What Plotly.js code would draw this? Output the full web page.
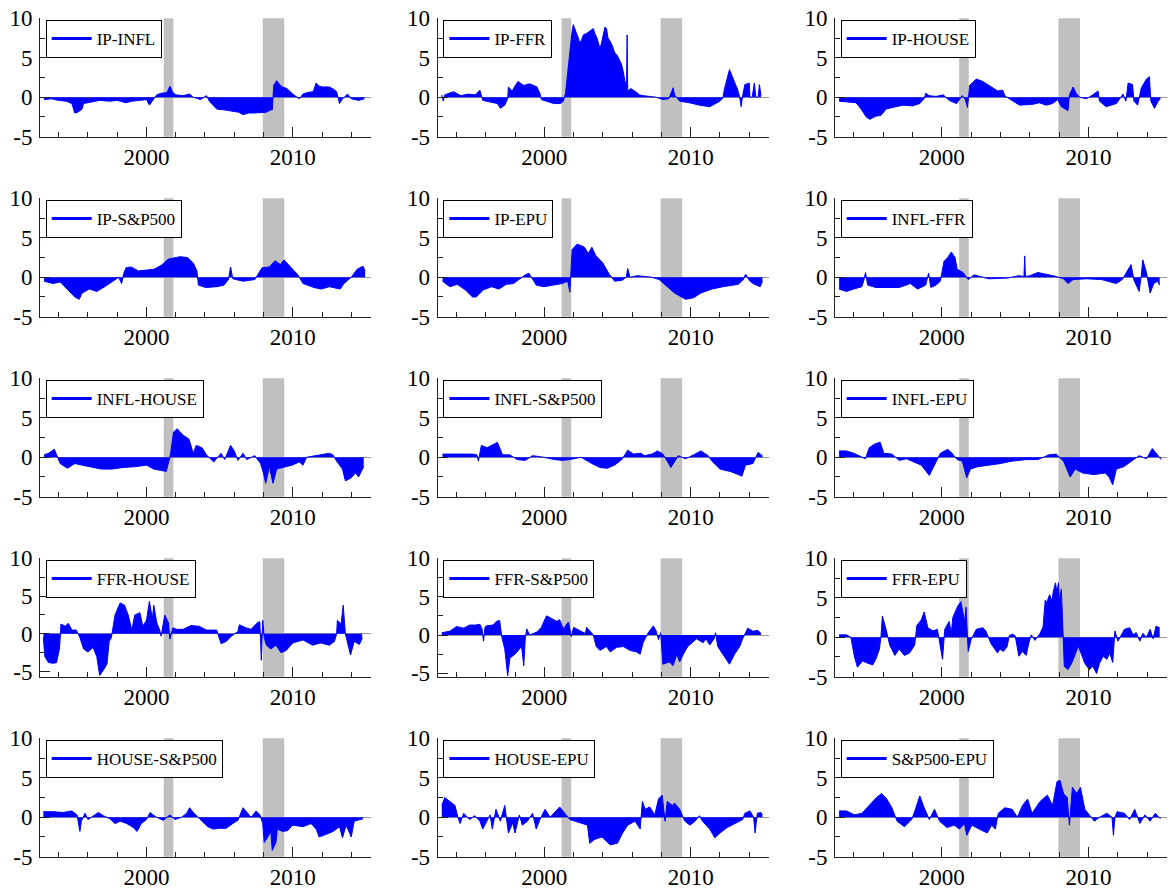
<!DOCTYPE html>
<html><head><meta charset="utf-8">
<script src="https://cdn.plot.ly/plotly-3.0.1.min.js"></script>
<style>html,body{margin:0;padding:0;background:#fff}#chart{width:1175px;height:893px}</style>
</head><body><div id="chart"></div>
<script>
// ---- data (decimal year, value) ----
const IP_INFL = [[1993.0,-0.3],[1993.5,-0.2],[1994.0,-0.4],[1994.5,-0.5],[1994.9,-0.8],[1995.1,-2.0],[1995.3,-1.9],[1995.6,-1.5],[1995.7,-0.8],[1996.2,-0.6],[1996.8,-0.4],[1997.5,-0.5],[1998.0,-0.4],[1998.6,-0.7],[1999.0,-0.5],[1999.5,-0.4],[2000.0,-0.3],[2000.2,-1.0],[2000.4,-0.5],[2000.7,0.3],[2001.0,0.5],[2001.4,0.6],[2001.6,1.4],[2001.7,1.0],[2001.8,0.6],[2002.0,0.3],[2002.5,0.2],[2002.95,0.4],[2003.2,0.0],[2003.7,-0.3],[2004.1,0.2],[2004.3,-0.5],[2004.8,-1.5],[2005.3,-1.6],[2005.9,-1.8],[2006.3,-1.9],[2006.6,-2.2],[2007.0,-2.0],[2007.3,-2.0],[2007.8,-1.9],[2008.2,-1.9],[2008.5,-1.6],[2008.6,-1.6],[2008.7,1.5],[2008.9,2.1],[2009.1,1.6],[2009.3,1.3],[2009.6,1.1],[2010.0,0.4],[2010.45,-0.2],[2010.7,0.4],[2011.0,0.6],[2011.4,0.7],[2011.6,1.8],[2011.8,1.4],[2012.05,1.3],[2012.5,1.3],[2012.8,1.0],[2013.0,0.7],[2013.2,-0.8],[2013.4,-0.2],[2013.75,0.4],[2014.0,-0.2],[2014.5,-0.4],[2014.9,-0.2]];
const IP_FFR = [[1993.0,0.3],[1993.1,-0.5],[1993.2,0.3],[1993.8,0.7],[1994.3,0.2],[1994.8,0.4],[1995.3,0.3],[1995.6,0.9],[1995.8,-0.4],[1996.3,-0.6],[1996.8,-0.8],[1997.0,-1.4],[1997.3,-1.0],[1997.5,-0.2],[1997.55,1.3],[1997.8,0.8],[1998.2,2.0],[1998.6,1.5],[1999.0,1.7],[1999.5,1.3],[1999.7,0.5],[1999.8,-0.3],[2000.4,-0.6],[2000.65,-0.8],[2001.1,-0.8],[2001.3,-0.5],[2001.45,0.5],[2001.53,2.0],[2001.71,5.4],[2001.87,7.9],[2001.98,9.2],[2002.1,8.7],[2002.2,8.1],[2002.33,7.5],[2002.44,6.8],[2002.55,7.3],[2002.67,7.9],[2002.9,8.1],[2003.1,8.4],[2003.35,8.7],[2003.45,8.1],[2003.6,7.5],[2003.8,6.2],[2003.9,6.8],[2004.15,8.9],[2004.25,8.7],[2004.35,7.5],[2004.5,7.1],[2004.65,6.5],[2004.8,5.7],[2004.98,5.3],[2005.15,4.6],[2005.27,4.2],[2005.4,3.2],[2005.5,2.1],[2005.62,1.5],[2005.66,7.9],[2005.7,0.8],[2005.9,1.1],[2006.25,0.7],[2006.5,0.3],[2006.75,0.2],[2007.65,0.0],[2008.1,-0.3],[2008.5,-0.2],[2008.7,0.7],[2008.8,1.2],[2008.9,0.3],[2009.25,-0.5],[2009.9,-0.7],[2010.6,-1.0],[2011.3,-1.2],[2012.0,-0.5],[2012.2,-0.1],[2012.3,1.0],[2012.65,3.5],[2013.0,2.0],[2013.2,1.0],[2013.35,0.0],[2013.45,-1.2],[2013.55,0.2],[2013.7,1.6],[2014.0,1.8],[2014.05,0.0],[2014.2,0.0],[2014.35,1.8],[2014.45,0.0],[2014.6,0.0],[2014.7,1.6],[2014.8,0.2]];
const IP_HOUSE = [[1993.0,-0.5],[1993.7,-0.6],[1994.15,-0.7],[1994.5,-1.5],[1994.85,-2.5],[1995.1,-2.8],[1995.5,-2.4],[1995.85,-2.3],[1996.2,-1.5],[1996.65,-1.3],[1997.35,-1.0],[1998.0,-1.1],[1998.5,-0.8],[1998.8,-0.2],[1998.9,0.5],[1999.15,0.2],[1999.6,0.1],[2000.1,0.3],[2000.5,-0.4],[2001.0,-0.8],[2001.4,0.2],[2001.6,-0.3],[2001.75,-1.3],[2001.9,1.5],[2002.35,2.3],[2002.8,2.0],[2003.5,1.2],[2003.8,0.8],[2004.15,0.9],[2004.3,0.2],[2004.6,-0.2],[2005.3,-1.0],[2006.2,-0.9],[2006.65,-0.7],[2007.1,-1.0],[2007.55,-0.8],[2007.9,-0.3],[2008.15,-1.2],[2008.6,-1.7],[2008.7,0.3],[2008.95,1.3],[2009.15,0.5],[2009.4,0.0],[2009.85,-0.2],[2010.3,0.3],[2010.65,0.8],[2010.75,-0.5],[2011.2,-1.2],[2011.9,-0.8],[2012.35,0.4],[2012.55,-0.5],[2012.7,1.8],[2013.0,1.6],[2013.1,-0.5],[2013.35,-1.0],[2013.5,0.2],[2013.6,1.2],[2013.95,2.3],[2014.15,2.6],[2014.25,-0.5],[2014.5,-1.4],[2014.75,-0.5],[2014.9,-0.2]];
const IP_SP500 = [[1993.0,-0.5],[1993.6,-0.8],[1994.1,-0.6],[1994.6,-1.5],[1995.1,-2.5],[1995.4,-2.8],[1995.6,-2.0],[1996.1,-1.5],[1996.6,-1.8],[1997.15,-1.2],[1997.7,-0.5],[1998.1,0.0],[1998.3,-0.8],[1998.45,0.5],[1998.6,1.2],[1998.95,1.3],[1999.45,0.8],[2000.0,0.9],[2000.5,1.0],[2001.0,1.5],[2001.5,2.3],[2002.3,2.6],[2002.8,2.5],[2003.2,1.8],[2003.45,0.8],[2003.55,-1.0],[2004.05,-1.3],[2004.8,-1.2],[2005.3,-1.0],[2005.6,-0.3],[2005.75,1.3],[2005.9,-0.2],[2006.6,-0.5],[2007.4,-0.3],[2007.65,0.5],[2007.9,1.2],[2008.4,1.3],[2008.8,2.1],[2009.15,1.6],[2009.4,2.2],[2009.9,1.2],[2010.35,0.3],[2010.7,-0.8],[2011.45,-1.3],[2011.95,-1.5],[2012.5,-1.2],[2013.25,-1.5],[2013.5,-0.8],[2014.0,0.0],[2014.4,1.0],[2014.8,1.4],[2014.95,0.8]];
const IP_EPU = [[1993.05,-0.5],[1993.55,-1.2],[1994.05,-0.9],[1994.6,-1.6],[1995.1,-2.5],[1995.35,-2.5],[1995.85,-1.6],[1996.4,-1.2],[1996.9,-1.5],[1997.4,-0.9],[1997.9,-0.8],[1998.5,0.0],[1998.7,0.3],[1998.95,0.5],[1999.2,-0.3],[1999.45,-1.0],[2000.0,-1.2],[2000.7,-1.0],[2001.2,-0.8],[2001.6,-0.5],[2001.75,-1.9],[2001.9,3.5],[2002.25,4.2],[2002.75,3.8],[2003.0,3.0],[2003.25,3.8],[2003.5,2.8],[2004.0,1.8],[2004.4,0.5],[2004.8,-0.5],[2005.3,-0.4],[2005.6,0.0],[2005.7,1.1],[2005.85,0.0],[2006.35,0.2],[2007.35,0.0],[2007.85,-0.3],[2008.4,-1.2],[2008.9,-2.0],[2009.65,-2.8],[2010.2,-2.6],[2010.7,-2.0],[2011.45,-1.5],[2012.2,-1.2],[2013.25,-0.9],[2013.6,-0.3],[2013.75,0.4],[2014.0,-0.4],[2014.25,-0.8],[2014.75,-1.2],[2014.9,-0.5]];
const INFL_FFR = [[1993.0,-1.5],[1993.5,-1.8],[1994.0,-1.5],[1994.55,-1.2],[1994.7,-0.3],[1994.8,0.6],[1994.95,-1.0],[1995.5,-1.3],[1996.05,-1.3],[1997.1,-1.3],[1997.85,-0.8],[1998.35,-1.5],[1998.9,-1.0],[1999.1,0.5],[1999.25,-1.3],[1999.6,-1.0],[1999.9,-0.5],[2000.15,2.0],[2000.4,2.5],[2000.65,3.2],[2000.9,2.5],[2001.05,1.0],[2001.45,0.6],[2001.8,-0.3],[2002.2,0.3],[2003.2,-0.2],[2004.5,-0.1],[2005.25,0.2],[2005.6,0.1],[2005.65,2.7],[2005.7,0.1],[2006.0,0.2],[2006.55,0.6],[2007.05,0.4],[2007.8,0.1],[2008.3,-0.2],[2008.6,-0.8],[2008.95,-0.3],[2009.85,-0.2],[2010.9,-0.3],[2011.9,-0.8],[2012.3,-0.3],[2012.65,0.8],[2012.9,1.6],[2013.1,-0.4],[2013.45,-1.8],[2013.6,0.3],[2013.7,2.2],[2013.95,0.6],[2014.2,-2.0],[2014.45,-0.8],[2014.7,-0.5],[2014.85,-1.0]];
const INFL_HOUSE = [[1993.0,0.3],[1993.3,0.5],[1993.7,1.0],[1993.9,0.0],[1994.1,-0.8],[1994.6,-1.4],[1995.1,-0.8],[1995.6,-1.0],[1996.1,-1.2],[1996.9,-1.5],[1997.65,-1.5],[1998.4,-1.3],[1999.2,-1.2],[2000.0,-1.0],[2000.5,-1.5],[2001.0,-1.7],[2001.35,-1.8],[2001.6,0.0],[2001.65,0.5],[2001.85,3.2],[2002.1,3.6],[2002.5,2.8],[2002.9,2.3],[2003.2,0.5],[2003.4,1.5],[2003.8,1.2],[2004.1,0.3],[2004.6,-0.6],[2005.1,0.5],[2005.35,-0.3],[2005.75,1.5],[2006.0,0.8],[2006.25,-0.4],[2006.6,0.5],[2006.85,-0.3],[2007.4,0.2],[2007.8,-0.8],[2008.0,-2.0],[2008.15,-3.3],[2008.4,-1.2],[2008.65,-3.3],[2008.9,-1.5],[2009.4,-1.3],[2009.95,-1.0],[2010.45,-0.6],[2010.7,-1.0],[2010.95,0.0],[2011.7,0.2],[2012.5,0.5],[2012.75,0.3],[2013.0,-0.5],[2013.4,-1.5],[2013.6,-3.0],[2014.0,-2.6],[2014.3,-2.0],[2014.5,-2.5],[2014.85,-1.2]];
const INFL_SP500 = [[1993.05,0.4],[1994.1,0.4],[1995.1,0.4],[1995.4,0.3],[1995.5,-0.5],[1995.7,1.5],[1996.1,1.2],[1996.6,1.7],[1996.8,1.9],[1997.15,0.3],[1997.65,0.3],[1998.15,-0.3],[1998.7,-0.4],[1999.2,0.2],[1999.95,0.0],[2000.7,-0.3],[2001.2,-0.4],[2001.75,-0.3],[2002.5,0.0],[2003.25,-0.8],[2003.8,-1.3],[2004.3,-1.4],[2004.8,-1.0],[2005.3,-0.3],[2005.7,0.9],[2006.1,0.4],[2006.6,0.5],[2006.85,0.2],[2007.35,0.4],[2007.75,0.8],[2008.1,0.4],[2008.4,-0.5],[2008.65,-1.3],[2009.15,0.2],[2009.65,-0.2],[2010.2,0.3],[2010.7,0.8],[2011.2,0.2],[2011.45,-0.5],[2012.0,-1.5],[2012.7,-1.8],[2013.25,-2.2],[2013.5,-2.4],[2013.75,-1.0],[2014.25,-0.8],[2014.6,0.6],[2014.9,0.2]];
const INFL_EPU = [[1993.0,0.8],[1993.5,0.8],[1994.0,0.5],[1994.4,0.2],[1994.8,-0.2],[1995.05,1.2],[1995.45,1.7],[1995.8,1.9],[1996.05,0.5],[1996.6,0.4],[1997.1,-0.4],[1997.6,-0.2],[1998.1,-0.6],[1998.6,-1.0],[1999.15,-2.3],[1999.4,-1.3],[1999.9,0.5],[2000.4,1.0],[2000.65,0.6],[2001.05,-0.3],[2001.4,-0.5],[2001.7,-2.6],[2001.95,-1.5],[2002.45,-1.2],[2003.2,-1.0],[2004.0,-0.8],[2004.75,-0.5],[2005.75,-0.3],[2006.55,-0.3],[2007.3,0.3],[2007.8,0.4],[2008.3,-0.5],[2008.75,-2.5],[2009.1,-1.5],[2009.6,-2.0],[2010.35,-2.2],[2011.15,-2.0],[2011.4,-2.5],[2011.65,-3.5],[2011.9,-1.5],[2012.4,-1.2],[2012.9,-0.5],[2013.45,0.2],[2013.95,-0.2],[2014.35,1.1],[2014.7,0.3],[2014.95,-0.3]];
const FFR_HOUSE = [[1992.95,-0.5],[1993.05,-3.0],[1993.3,-3.8],[1993.65,-3.9],[1993.85,-3.8],[1994.05,-2.0],[1994.12,0.0],[1994.15,1.3],[1994.45,1.0],[1994.65,1.4],[1994.9,0.5],[1995.2,0.5],[1995.45,-0.5],[1995.7,-2.0],[1996.0,-2.4],[1996.35,-1.8],[1996.6,-3.0],[1996.8,-5.5],[1997.05,-4.8],[1997.3,-4.0],[1997.45,-1.0],[1997.6,-0.5],[1997.85,2.5],[1998.2,4.1],[1998.5,3.8],[1998.75,2.5],[1999.0,0.5],[1999.2,2.5],[1999.55,2.8],[1999.75,1.0],[2000.0,1.8],[2000.2,4.3],[2000.4,2.0],[2000.5,3.8],[2000.7,1.5],[2000.9,0.5],[2001.0,-0.3],[2001.25,2.5],[2001.5,1.5],[2001.6,-0.7],[2001.8,0.8],[2002.05,0.6],[2002.5,0.6],[2003.05,1.1],[2003.6,1.0],[2004.1,0.5],[2004.8,0.5],[2005.1,-1.3],[2005.45,-1.0],[2005.8,-0.3],[2006.25,0.3],[2006.35,1.2],[2006.8,0.8],[2007.15,0.6],[2007.6,1.5],[2007.75,1.6],[2007.85,-3.5],[2007.95,1.8],[2008.05,-0.5],[2008.2,-1.5],[2008.5,-2.0],[2008.85,-1.5],[2009.2,-2.5],[2009.55,-2.2],[2010.0,-1.2],[2010.7,-0.8],[2011.35,-1.5],[2011.9,-1.2],[2012.5,-1.5],[2012.85,-1.0],[2013.0,0.0],[2013.05,1.8],[2013.3,1.3],[2013.45,3.8],[2013.6,0.0],[2013.85,-1.8],[2013.95,-2.8],[2014.2,-1.0],[2014.55,-1.4],[2014.75,-0.6]];
const FFR_SP500 = [[1993.0,0.3],[1993.55,0.5],[1994.0,1.1],[1994.5,0.9],[1994.9,1.3],[1995.3,1.3],[1995.6,1.4],[1995.75,0.8],[1995.85,-0.8],[1995.95,1.0],[1996.05,1.2],[1996.5,1.3],[1996.75,1.8],[1996.95,1.9],[1997.1,-0.3],[1997.3,-1.8],[1997.5,-5.3],[1997.65,-3.0],[1998.0,-2.5],[1998.2,-2.0],[1998.45,-1.5],[1998.6,-4.0],[1998.7,-0.5],[1998.8,0.8],[1999.0,0.0],[1999.5,0.4],[1999.8,1.0],[2000.15,2.5],[2000.5,2.2],[2000.85,1.8],[2001.05,2.0],[2001.3,0.8],[2001.65,1.7],[2001.85,-0.2],[2002.0,1.0],[2002.45,0.5],[2002.8,0.2],[2002.9,1.0],[2003.1,0.5],[2003.35,0.0],[2003.55,-1.5],[2003.8,-2.0],[2004.25,-1.5],[2004.5,-2.2],[2004.95,-1.6],[2005.4,-1.5],[2005.85,-2.0],[2006.3,-2.2],[2006.55,-2.5],[2006.75,-1.0],[2007.1,0.3],[2007.45,1.2],[2007.65,0.5],[2007.8,-0.6],[2007.95,0.3],[2008.1,-3.8],[2008.55,-3.5],[2008.8,-4.0],[2009.05,-2.5],[2009.25,-3.5],[2009.5,-2.5],[2009.8,-1.5],[2010.4,-0.5],[2010.85,-1.0],[2011.05,-0.5],[2011.3,-1.3],[2011.6,-0.5],[2011.7,0.3],[2011.85,-1.5],[2012.2,-2.5],[2012.65,-3.8],[2013.0,-2.5],[2013.35,-1.5],[2013.55,-0.5],[2013.9,0.9],[2014.25,0.5],[2014.6,0.6],[2014.8,0.2]];
const FFR_EPU = [[1993.0,0.3],[1993.5,0.3],[1993.8,0.0],[1994.05,-2.5],[1994.25,-3.8],[1994.6,-3.0],[1994.95,-3.3],[1995.3,-3.5],[1995.5,-2.8],[1995.75,-1.5],[1995.85,0.0],[1995.95,2.7],[1996.2,1.0],[1996.45,-1.0],[1996.8,-2.3],[1997.1,-1.5],[1997.45,-2.3],[1997.8,-2.0],[1998.15,-1.0],[1998.3,1.5],[1998.6,2.2],[1998.8,3.2],[1999.05,1.2],[1999.4,0.8],[1999.7,1.0],[1999.85,-0.5],[2000.05,-2.8],[2000.2,1.0],[2000.5,2.0],[2000.65,0.5],[2000.75,2.5],[2001.1,4.0],[2001.3,4.5],[2001.55,2.0],[2001.65,3.8],[2001.8,-1.8],[2002.0,-0.3],[2002.35,1.0],[2002.8,1.2],[2003.0,0.8],[2003.35,-0.8],[2003.8,-2.0],[2003.95,-1.5],[2004.2,-1.8],[2004.45,-1.2],[2004.6,0.2],[2004.8,0.4],[2005.0,0.2],[2005.1,-1.0],[2005.25,-2.4],[2005.5,-1.8],[2005.75,-2.3],[2005.95,-0.6],[2006.1,0.3],[2006.35,-0.4],[2006.7,0.5],[2006.9,1.3],[2007.05,4.7],[2007.15,4.4],[2007.35,5.4],[2007.5,4.6],[2007.6,5.8],[2007.75,6.9],[2007.85,5.6],[2007.95,6.9],[2008.02,4.4],[2008.15,6.1],[2008.25,-0.2],[2008.35,-3.7],[2008.6,-4.1],[2008.85,-3.3],[2009.05,-2.4],[2009.3,-1.1],[2009.5,-2.1],[2009.75,-3.3],[2010.05,-4.1],[2010.3,-3.7],[2010.55,-4.6],[2010.75,-3.3],[2011.0,-2.4],[2011.25,-2.8],[2011.45,-2.0],[2011.65,-3.2],[2011.8,0.8],[2012.0,-0.5],[2012.45,1.0],[2012.8,1.2],[2013.05,0.3],[2013.25,0.6],[2013.5,-0.5],[2013.7,0.5],[2013.95,0.0],[2014.2,1.0],[2014.4,-0.2],[2014.6,1.4],[2014.85,1.2]];
const HOUSE_SP500 = [[1992.95,0.7],[1993.65,0.7],[1994.3,0.6],[1994.9,0.8],[1995.25,0.3],[1995.45,-1.8],[1995.55,-0.5],[1995.8,0.5],[1996.0,-0.3],[1996.35,0.2],[1996.7,0.6],[1997.05,0.2],[1997.5,-0.2],[1997.85,-0.8],[1998.2,-0.5],[1998.65,-0.8],[1999.1,-1.3],[1999.35,-1.8],[1999.65,-0.8],[2000.0,-0.3],[2000.25,0.6],[2000.45,0.3],[2000.7,0.0],[2001.15,-0.4],[2001.6,0.3],[2001.95,-0.3],[2002.4,0.0],[2002.75,0.5],[2002.95,1.2],[2003.2,0.6],[2003.5,0.0],[2003.85,-0.6],[2004.2,-1.2],[2004.55,-1.5],[2005.0,-1.4],[2005.45,-1.4],[2005.9,-0.8],[2006.25,-0.4],[2006.6,1.2],[2006.8,0.8],[2007.15,0.0],[2007.5,0.8],[2007.75,0.3],[2007.95,-0.8],[2008.05,-3.2],[2008.3,-2.5],[2008.5,-1.8],[2008.6,-4.2],[2008.85,-3.2],[2008.95,-1.5],[2009.3,-1.8],[2009.65,-1.7],[2010.0,-1.0],[2010.7,-1.2],[2011.25,-0.8],[2011.6,-1.5],[2011.8,-2.5],[2012.25,-2.2],[2012.75,-1.8],[2013.2,-1.2],[2013.4,-2.6],[2013.65,-1.0],[2014.0,-2.5],[2014.2,-0.5],[2014.55,-0.3],[2014.8,-0.2]];
const HOUSE_EPU = [[1993.0,1.5],[1993.2,2.5],[1993.55,2.0],[1993.9,1.5],[1994.1,0.0],[1994.25,-0.8],[1994.5,0.5],[1994.9,-0.3],[1995.25,0.2],[1995.6,-0.5],[1995.8,-1.5],[1996.1,-0.5],[1996.3,0.3],[1996.45,-1.5],[1996.7,1.0],[1997.0,-0.5],[1997.3,1.5],[1997.55,-2.0],[1997.85,-0.7],[1998.0,-2.0],[1998.3,0.3],[1998.5,-1.0],[1998.85,-0.5],[1999.2,0.5],[1999.45,-1.5],[1999.7,-0.3],[2000.05,1.0],[2000.4,0.0],[2000.9,1.0],[2001.05,1.3],[2001.4,0.5],[2001.75,-0.3],[2002.1,-0.5],[2002.6,-0.8],[2002.95,-1.0],[2003.1,-3.3],[2003.45,-2.8],[2003.95,-2.5],[2004.5,-3.5],[2005.0,-3.3],[2005.35,-2.0],[2005.7,-1.0],[2006.2,-0.5],[2006.55,-1.5],[2006.7,2.0],[2006.9,1.0],[2007.2,1.3],[2007.55,0.3],[2007.8,2.3],[2008.05,2.8],[2008.25,-0.5],[2008.4,2.0],[2008.75,1.5],[2008.9,1.8],[2009.25,1.0],[2009.6,-0.5],[2009.95,-1.0],[2010.3,-0.5],[2010.6,0.2],[2010.8,-0.5],[2011.3,-1.5],[2011.65,-2.6],[2012.0,-2.0],[2012.5,-1.3],[2013.0,-0.8],[2013.55,-0.3],[2013.7,0.5],[2014.05,0.8],[2014.3,0.0],[2014.4,-2.0],[2014.55,0.5],[2014.8,0.6],[2014.9,0.3]];
const SP500_EPU = [[1993.0,0.8],[1993.5,0.8],[1994.05,0.3],[1994.55,0.5],[1995.05,1.5],[1995.55,2.5],[1995.9,3.0],[1996.25,2.3],[1996.6,1.2],[1996.95,-0.5],[1997.45,-1.2],[1997.95,-0.3],[1998.2,1.0],[1998.5,2.7],[1998.8,1.2],[1999.15,-0.3],[1999.5,1.0],[1999.85,-0.5],[2000.35,-1.3],[2000.85,-1.0],[2001.2,-1.5],[2001.55,-0.8],[2001.7,-2.3],[2002.05,-1.0],[2002.55,-1.5],[2003.1,-2.0],[2003.4,-1.0],[2003.65,-1.5],[2003.85,0.5],[2004.3,1.2],[2004.8,1.0],[2005.15,0.0],[2005.5,1.5],[2005.85,2.3],[2006.15,0.5],[2006.7,2.0],[2007.2,2.8],[2007.55,1.5],[2007.85,4.5],[2008.05,4.7],[2008.3,3.0],[2008.55,2.5],[2008.7,-1.0],[2008.9,3.8],[2009.2,3.0],[2009.45,3.8],[2009.75,1.0],[2010.05,0.3],[2010.4,-0.5],[2010.75,0.0],[2011.25,0.5],[2011.6,0.0],[2011.7,-2.3],[2011.8,0.0],[2011.95,0.7],[2012.45,0.5],[2012.8,-0.3],[2013.15,1.0],[2013.5,-0.8],[2013.85,0.3],[2014.2,-0.5],[2014.55,0.5],[2014.9,-0.2]];

const seriesNames = ['IP-INFL','IP-FFR','IP-HOUSE','IP-S&P500','IP-EPU','INFL-FFR','INFL-HOUSE','INFL-S&P500','INFL-EPU','FFR-HOUSE','FFR-S&P500','FFR-EPU','HOUSE-S&P500','HOUSE-EPU','S&P500-EPU'];
const seriesData = [IP_INFL, IP_FFR, IP_HOUSE, IP_SP500, IP_EPU, INFL_FFR, INFL_HOUSE, INFL_SP500, INFL_EPU, FFR_HOUSE, FFR_SP500, FFR_EPU, HOUSE_SP500, HOUSE_EPU, SP500_EPU];
const yMin = [-5,-5,-5,-5,-5,-5,-5,-5,-5,-5.67,-5.43,-5,-5,-5,-5];
const recessionStart = [2001.18, 2007.95];
const recessionEnd = [2001.84, 2009.42];
const yTickVals = [-5, 0, 5, 10];
const yTickText = ['-5', '0', '5', '10'];

// ---- layout geometry ----
const W = 1175, H = 893;
const colL = [40, 437.7, 835], colR = [371, 769, 1167];
const FONT = '"Liberation Serif", "Times New Roman", serif';
const traces = [], shapes = [];
const layout = {width: W, height: H, margin: {l:0, r:0, t:0, b:0, pad:0},
  paper_bgcolor:'#fff', plot_bgcolor:'rgba(0,0,0,0)', showlegend: true,
  font:{family:FONT, color:'#000'}};

seriesData.forEach((d, i) => {
  const r = Math.floor(i / 3), c = i % 3, n = i + 1;
  const top = 18.3 + 180 * r, bot = 136.7 + 180 * r;
  const xa = 'x' + (n === 1 ? '' : n), ya = 'y' + (n === 1 ? '' : n);
  const xk = 'xaxis' + (n === 1 ? '' : n), yk = 'yaxis' + (n === 1 ? '' : n);
  const lk = 'legend' + (n === 1 ? '' : n);
  const xs = d.map(p => p[0]), ys = d.map(p => p[1]);
  traces.push({type:'scatter', mode:'lines', x: xs, y: ys, xaxis: xa, yaxis: ya,
    fill:'tozeroy', fillcolor:'#0000ff', line:{color:'#0000ff', width:1}, showlegend:false, hoverinfo:'skip'});
  traces.push({type:'scatter', mode:'lines', x:[null], y:[null], xaxis: xa, yaxis: ya,
    name: seriesNames[i], legend: lk, showlegend:true, line:{color:'#0000ff', width:3}});
  layout[xk] = {domain:[colL[c]/W, colR[c]/W], anchor: ya, range:[1992.72, 2015.35],
    tickmode:'linear', tick0:2000, dtick:10, ticks:'inside', ticklen:10, tickwidth:1, tickcolor:'#222',
    minor:{tickmode:'linear', tick0:2000, dtick:2, ticks:'inside', ticklen:5, tickwidth:1, tickcolor:'#222'},
    showline:true, linecolor:'#222', linewidth:1, showgrid:false, zeroline:false,
    tickfont:{family:FONT, size:23, color:'#000'}, ticklabelstandoff:0, fixedrange:true};
  layout[yk] = {domain:[1 - bot/H, 1 - top/H], anchor: xa, range:[yMin[i], 10],
    tickmode:'array', tickvals: yTickVals, ticktext: yTickText, ticks:'inside', ticklen:10, tickwidth:1, tickcolor:'#222',
    minor:{tickmode:'linear', tick0:0, dtick:2.5, ticks:'inside', ticklen:5, tickwidth:1, tickcolor:'#222'},
    showline:true, linecolor:'#222', linewidth:1, showgrid:false,
    zeroline:true, zerolinecolor:'#9a9a9a', zerolinewidth:1,
    tickfont:{family:FONT, size:23, color:'#000'}, ticklabelstandoff:2, fixedrange:true};
  layout[lk] = {x: (colL[c] + 5.7)/W, y: 1 - (top + 1.7)/H, xanchor:'left', yanchor:'top',
    bgcolor:'#fff', bordercolor:'#000', borderwidth:1,
    font:{family:FONT, size:17, color:'#000'}, itemwidth:40, tracegroupgap:0};
  recessionStart.forEach((s, k) => {
    shapes.push({type:'rect', xref: xa, yref: ya + ' domain', x0: s, x1: recessionEnd[k], y0:0, y1:1,
      fillcolor:'#c0c0c0', line:{width:0}, layer:'below'});
  });
});
layout.shapes = shapes;
Plotly.newPlot('chart', traces, layout, {displayModeBar:false, staticPlot:true});
</script></body></html>
